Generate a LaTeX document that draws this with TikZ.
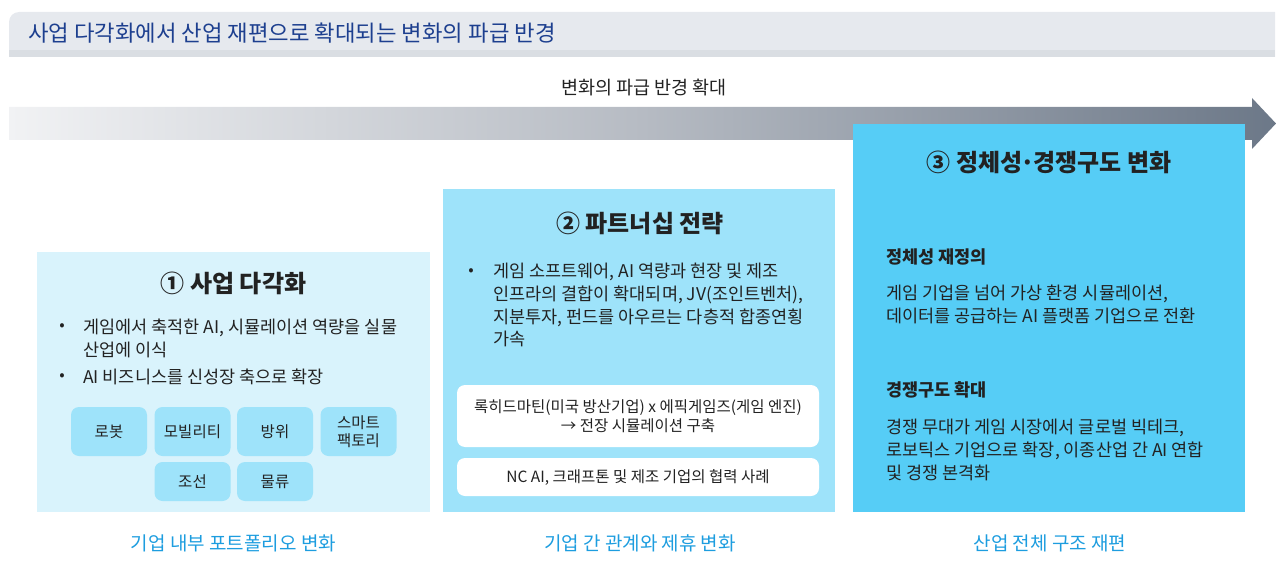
\documentclass[tikz,border=0pt]{standalone}
\usepackage{fontspec}
\setmainfont{Noto Sans CJK KR}
\usetikzlibrary{positioning}

\definecolor{bandgray}{HTML}{E6E9EE}
\definecolor{bandstrip}{HTML}{DADEE3}
\definecolor{titleblue}{HTML}{1D3F8F}
\definecolor{arrowlight}{HTML}{F1F2F4}
\definecolor{arrowmid}{HTML}{B6BBC3}
\definecolor{arrowdark}{HTML}{6C7888}
\definecolor{paleblue}{HTML}{D9F3FC}
\definecolor{midblue}{HTML}{9EE3FA}
\definecolor{deepblue}{HTML}{56CDF6}
\definecolor{labelblue}{HTML}{1D9DDF}
\definecolor{inkgray}{HTML}{222222}

\begin{document}
\begin{tikzpicture}[x=1pt,y=-1pt,
    boxtitle/.style={font=\fontsize{24}{28}\selectfont\bfseries, text=inkgray, inner sep=0pt},
    bodytext/.style={font=\fontsize{17.5}{22.7}\selectfont, text=inkgray, inner sep=0pt, align=left, anchor=north west},
    dot/.style={font=\fontsize{16}{22.5}\selectfont, text=inkgray, inner sep=0pt},
    subhead/.style={font=\fontsize{17.5}{22}\selectfont\bfseries, text=inkgray, inner sep=0pt, anchor=west},
    tagbox/.style={fill=midblue, rounded corners=8pt, minimum width=76pt, text=inkgray,
        font=\fontsize{15.5}{17.5}\selectfont, align=center, inner sep=0pt},
    casebox/.style={fill=white, rounded corners=8pt, minimum width=362pt, text=inkgray,
        font=\fontsize{15.5}{19.5}\selectfont, align=center, inner sep=0pt},
    footlabel/.style={font=\fontsize{19}{22}\selectfont, text=labelblue, inner sep=0pt}]

    \useasboundingbox (0,0) rectangle (1280,567);

    \fill[bandgray] (9,57) [rounded corners=10pt] -- (9,12) [sharp corners] -- (1275,12) -- (1275,57) -- cycle;
    \fill[bandstrip] (9,50) rectangle (1275,57);
    \node[anchor=west, inner sep=0pt, text=titleblue, font=\fontsize{22.3}{25}\selectfont] (maintitle) at (28,33)
        {사업 다각화에서 산업 재편으로 확대되는 변화의 파급 반경};

    \node[inner sep=0pt, text=inkgray, font=\fontsize{18.5}{22}\selectfont] (spread) at (644,88) {변화의 파급 반경 확대};
    \shade[left color=arrowlight, right color=arrowdark, middle color=arrowmid]
        (9,107) -- (1252,107) -- (1252,98) -- (1276,123.5) -- (1252,149) -- (1252,140) -- (9,140) -- cycle;

    \fill[paleblue] (37,252) rectangle (430,512);
    \node[boxtitle] (diversify) at (233.5,283) {① 사업 다각화};
    \node[dot] (dotone) at (62,327) {•};
    \node[bodytext] (transfer) at (83,319) {게임에서 축적한 AI, 시뮬레이션 역량을 실물\\산업에 이식};
    \node[dot] (dottwo) at (62,377) {•};
    \node[bodytext] (growth) at (83,369) {AI 비즈니스를 신성장 축으로 확장};

    \node[tagbox, minimum height=49pt] (robot) at (109,431.5) {로봇};
    \node[tagbox, minimum height=49pt] (mobility) at (192.5,431.5) {모빌리티};
    \node[tagbox, minimum height=49pt] (defense) at (275,431.5) {방위};
    \node[tagbox, minimum height=49pt] (factory) at (358.5,431.5) {스마트\\팩토리};
    \node[tagbox, minimum height=39pt] (shipbuild) at (192.5,481.5) {조선};
    \node[tagbox, minimum height=39pt] (logistics) at (275,481.5) {물류};

    \fill[midblue] (443,189) rectangle (835,512);
    \node[boxtitle] (partner) at (640,223) {② 파트너십 전략};
    \node[dot] (dotthree) at (471,272) {•};
    \node[bodytext] (alliance) at (493,263)
        {게임 소프트웨어, AI 역량과 현장 및 제조\\인프라의 결합이 확대되며, JV(조인트벤처),\\지분투자, 펀드를 아우르는 다층적 합종연횡\\가속};
    \node[casebox, minimum height=62pt] (lockheed) at (638,416)
        {록히드마틴(미국 방산기업) x 에픽게임즈(게임 엔진)\\→ 전장 시뮬레이션 구축};
    \node[casebox, minimum height=38pt] (ncai) at (638,477) {NC AI, 크래프톤 및 제조 기업의 협력 사례};

    \fill[deepblue] (853,124) rectangle (1245,512);
    \node[boxtitle] (identity) at (1049,162) {③ 정체성\hspace{-0.08em}·\hspace{-0.08em}경쟁구도 변화};
    \node[subhead] (redefine) at (886,257) {정체성 재정의};
    \node[bodytext] (platform) at (886,285) {게임 기업을 넘어 가상 환경 시뮬레이션,\\데이터를 공급하는 AI 플랫폼 기업으로 전환};
    \node[subhead] (compete) at (886,390) {경쟁구도 확대};
    \node[bodytext] (bigtech) at (886,419) {경쟁 무대가 게임 시장에서 글로벌 빅테크,\\로보틱스 기업으로 확장, 이종산업 간 AI 연합\\및 경쟁 본격화};

    \node[footlabel] (portfolio) at (233.5,543) {기업 내부 포트폴리오 변화};
    \node[footlabel] (relation) at (640,543) {기업 간 관계와 제휴 변화};
    \node[footlabel] (restructure) at (1050,543) {산업 전체 구조 재편};

\end{tikzpicture}
\end{document}
